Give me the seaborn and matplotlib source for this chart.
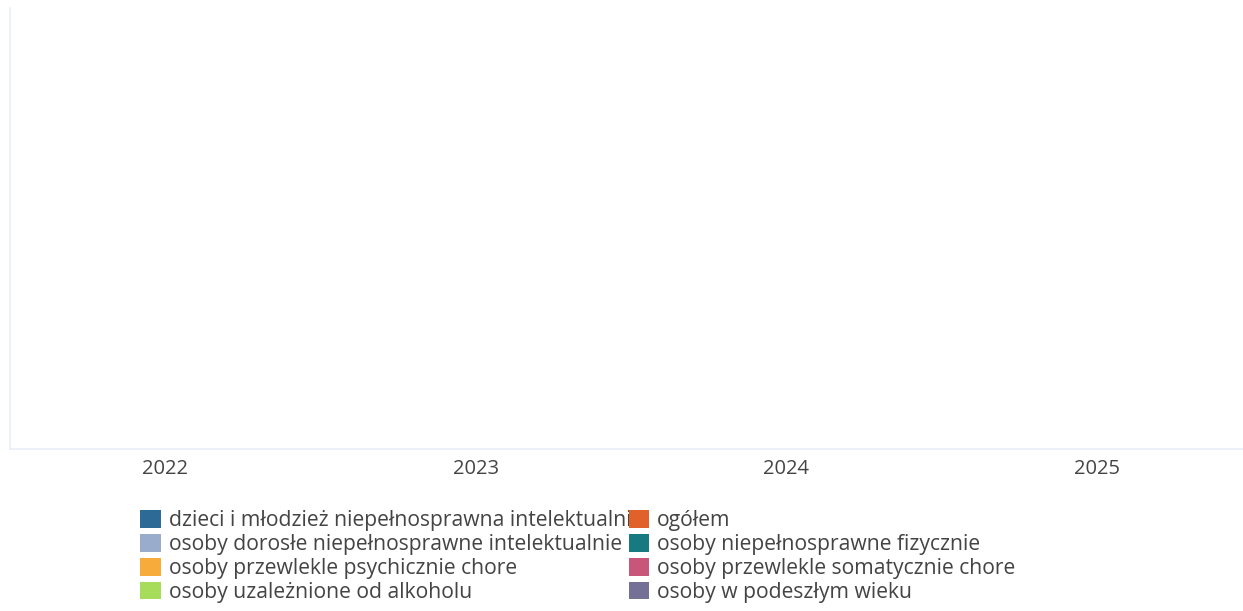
import pandas as pd
import seaborn as sns
from matplotlib import pyplot as plt

years = ["2022", "2023", "2024", "2025"]
groups = [
    "dzieci i młodzież niepełnosprawna intelektualnie",
    "ogółem",
    "osoby dorosłe niepełnosprawne intelektualnie",
    "osoby niepełnosprawne fizycznie",
    "osoby przewlekle psychicznie chore",
    "osoby przewlekle somatycznie chore",
    "osoby uzależnione od alkoholu",
    "osoby w podeszłym wieku",
]
colors = ["#2e6a96", "#e0622a", "#9aaccc", "#167a80",
          "#f7ab3a", "#c8557a", "#a6dc5a", "#757196"]
# no values shown in the chart
values = [0.0] * (len(years) * len(groups))

rows = [(y, g) for y in years for g in groups]
df = pd.DataFrame(rows, columns=["rok", "grupa"])
df["wartosc"] = values

sns.set_style("white")
plt.rcParams["font.family"] = ["Open Sans", "DejaVu Sans"]

fig = plt.figure(figsize=(12.43, 6.11), dpi=100)
ax = fig.add_axes([10 / 1243, 1 - 449 / 611, 1 - 10 / 1243, 441 / 611])
sns.barplot(data=df, x="rok", y="wartosc", hue="grupa", hue_order=groups,
            palette=colors, saturation=1, linewidth=0, ax=ax)
ax.set_xlim(-0.499, 3.470)
ax.set_ylim(0, 1)
ax.set_xlabel("")
ax.set_ylabel("")
ax.set_yticks([])
ax.tick_params(axis="x", length=0, pad=7, labelsize=14.5, colors="#444444")
for s in ["top", "right"]:
    ax.spines[s].set_visible(False)
for s in ["left", "bottom"]:
    ax.spines[s].set_color("#e8eff6")
    ax.spines[s].set_linewidth(1.2)

handles, labels = ax.get_legend_handles_labels()
ax.get_legend().remove()
order = [0, 2, 4, 6, 1, 3, 5, 7]
fig.legend([handles[i] for i in order], [labels[i] for i in order],
           loc="upper left", bbox_to_anchor=(132 / 1243, 1 - 502 / 611),
           ncol=2, frameon=False, fontsize=15.2, handlelength=0.95,
           handleheight=0.9, handletextpad=0.38, labelspacing=0.13,
           columnspacing=-0.65, borderaxespad=0, labelcolor="#444444")

plt.savefig("out.png", dpi=100)
plt.close()
